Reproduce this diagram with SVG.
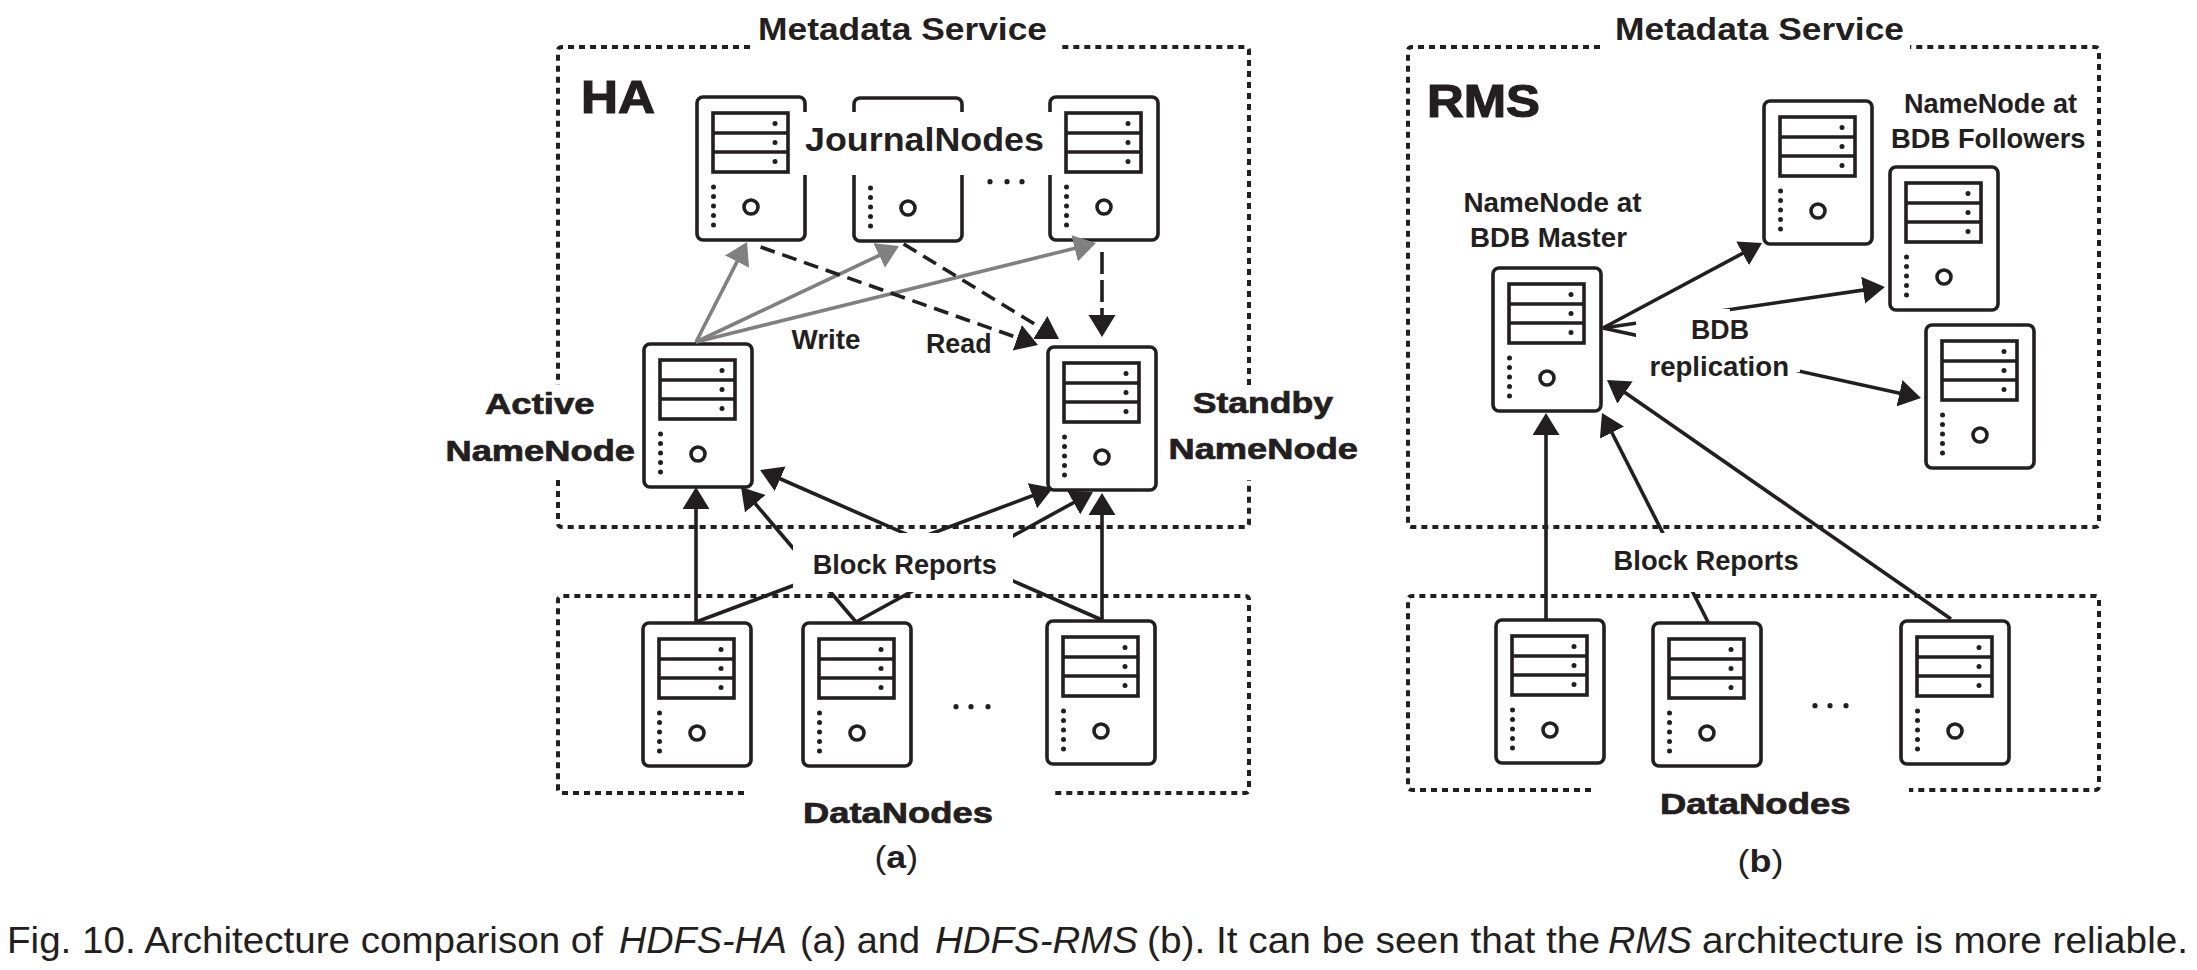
<svg xmlns="http://www.w3.org/2000/svg" width="2197" height="970" viewBox="0 0 2197 970">
<style>
text{font-family:"Liberation Sans",Arial,sans-serif;fill:#231f20;font-weight:bold}
.m{font-size:32px}.big{font-size:46px;stroke:#231f20;stroke-width:1.2px}.j{font-size:34px}
.s{font-size:27px}.h{font-size:29px;stroke:#231f20;stroke-width:.7px}.cap{font-size:36px;font-weight:normal}
.it{font-style:italic}.r{font-weight:normal}
.box{fill:none;stroke:#231f20;stroke-width:4;stroke-dasharray:6 5}
.t{fill:#fff;stroke:#231f20;stroke-width:3.6}
.l{fill:none;stroke:#231f20;stroke-width:3.6}
.d{fill:#231f20}
.k{fill:none;stroke:#231f20;stroke-width:3.6}
.g{fill:none;stroke:#808080;stroke-width:3.6;marker-end:url(#ag)}
.a{marker-end:url(#ab)}
.dash{stroke-dasharray:15 8}
.w{fill:#fff}
</style>
<defs>
<marker id="ab" markerUnits="userSpaceOnUse" markerWidth="24" markerHeight="28" refX="12" refY="13.5" orient="auto"><path d="M0,0L22,13.5L0,27z" fill="#231f20"/></marker>
<marker id="ag" markerUnits="userSpaceOnUse" markerWidth="24" markerHeight="28" refX="12" refY="13.5" orient="auto"><path d="M0,0L22,13.5L0,27z" fill="#808080"/></marker>
<g id="tower">
<rect class="t" x="0" y="0" width="108" height="143" rx="6"/>
<rect class="l" x="16" y="16" width="75" height="59"/>
<path class="l" d="M16,36H91M16,55H91"/>
<g class="d">
<circle cx="78" cy="26.5" r="2.5"/><circle cx="78" cy="45.5" r="2.5"/><circle cx="78" cy="64.5" r="2.5"/>
<circle cx="16.5" cy="90" r="2.5"/><circle cx="16.5" cy="99.5" r="2.5"/><circle cx="16.5" cy="109" r="2.5"/><circle cx="16.5" cy="118.5" r="2.5"/><circle cx="16.5" cy="128" r="2.5"/>
</g>
<circle class="l" cx="54" cy="110" r="7"/>
</g>
</defs>
<rect width="2197" height="970" fill="#fff"/>

<g id="boxes">
<path class="box" d="M750,47H562Q558,47 558,51V385M558,480V523Q558,527 562,527H1245Q1249,527 1249,523V480M1249,385V51Q1249,47 1245,47H1059"/>
<path class="box" d="M744,793H562Q558,793 558,789V600Q558,596 562,596H1245Q1249,596 1249,600V789Q1249,793 1245,793H1052"/>
<path class="box" d="M1600,47H1412Q1408,47 1408,51V523Q1408,527 1412,527H2095Q2099,527 2099,523V51Q2099,47 2095,47H1910"/>
<path class="box" d="M1591,790H1412Q1408,790 1408,786V600Q1408,596 1412,596H2095Q2099,596 2099,600V786Q2099,790 2095,790H1909"/>
</g>

<g id="jn1"><use href="#tower" x="697" y="97"/></g>
<g id="jn2"><use href="#tower" x="854" y="98"/></g>
<g id="jn3"><use href="#tower" x="1050" y="97"/></g>
<rect class="w" x="802" y="112" width="251" height="63"/>
<g id="active"><use href="#tower" x="644" y="344"/></g>
<g id="standby"><use href="#tower" x="1048" y="347"/></g>
<g id="dn-a1"><use href="#tower" x="643" y="623"/></g>
<g id="dn-a2"><use href="#tower" x="803" y="623"/></g>
<g id="dn-a3"><use href="#tower" x="1047" y="621"/></g>
<g id="master"><use href="#tower" x="1493" y="268"/></g>
<g id="f1"><use href="#tower" x="1764" y="101"/></g>
<g id="f2"><use href="#tower" x="1890" y="167"/></g>
<g id="f3"><use href="#tower" x="1926" y="325"/></g>
<g id="dn-b1"><use href="#tower" x="1496" y="620"/></g>
<g id="dn-b2"><use href="#tower" x="1653" y="623"/></g>
<g id="dn-b3"><use href="#tower" x="1901" y="621"/></g>

<g id="connectors">
<path class="g" d="M696,342L742.5,251"/>
<path class="g" d="M696,342L890,250.3"/>
<path class="g" d="M696,342L1086.3,245.4"/>
<path class="k a dash" d="M760.6,247L1028.6,341.7"/>
<path class="k a dash" d="M903.6,244L1050.5,333.8"/>
<path class="k a" stroke-dasharray="22 6" d="M1102,252V327"/>
<path class="k a" d="M696,622V497"/>
<path class="k a" d="M696,622L1043.6,491.5"/>
<path class="k a" d="M856,622L747.5,494.6"/>
<path class="k a" d="M856,622L1084.2,496.8"/>
<path class="k a" d="M1102,620L769.2,474"/>
<path class="k a" d="M1102,620V503"/>
<rect class="w" x="793" y="533" width="220" height="59"/>
<path class="k a" d="M1603,328L1875,288.4"/>
<path class="k a" d="M1603,328L1911.2,395.8"/>
<rect class="w" x="1636" y="309" width="94" height="32"/>
<rect class="w" x="1636" y="340" width="164" height="32"/>
<path class="k a" d="M1603,328L1753.2,247.7"/>
<path class="k a" d="M1546,620V423"/>
<path class="k a" d="M1708,622L1606.5,422"/>
<path class="k a" d="M1951,619L1615.2,385.7"/>
<rect class="w" x="1610" y="533" width="190" height="59"/>
</g>

<g id="ellipses" class="d">
<circle cx="990" cy="181.7" r="2.6"/><circle cx="1007" cy="181.7" r="2.6"/><circle cx="1022" cy="181.7" r="2.6"/>
<circle cx="956" cy="706.7" r="2.6"/><circle cx="971" cy="706.7" r="2.6"/><circle cx="988" cy="706.7" r="2.6"/>
<circle cx="1815" cy="705.7" r="2.6"/><circle cx="1830" cy="705.7" r="2.6"/><circle cx="1846" cy="705.7" r="2.6"/>
</g>

<g id="labels">
<text class="m" x="758" y="40" textLength="289" lengthAdjust="spacingAndGlyphs">Metadata Service</text>
<text class="big" x="581" y="113" textLength="74" lengthAdjust="spacingAndGlyphs">HA</text>
<text class="j" x="805" y="151" textLength="239" lengthAdjust="spacingAndGlyphs">JournalNodes</text>
<text class="s" x="791.5" y="349" textLength="69" lengthAdjust="spacingAndGlyphs">Write</text>
<text class="s" x="926" y="353" textLength="65.5" lengthAdjust="spacingAndGlyphs">Read</text>
<text class="h" x="485" y="414" textLength="109.5" lengthAdjust="spacingAndGlyphs">Active</text>
<text class="h" x="445.5" y="461" textLength="189.5" lengthAdjust="spacingAndGlyphs">NameNode</text>
<text class="h" x="1192.7" y="413" textLength="140.3" lengthAdjust="spacingAndGlyphs">Standby</text>
<text class="h" x="1168.5" y="459" textLength="189.5" lengthAdjust="spacingAndGlyphs">NameNode</text>
<text class="s" x="812.7" y="574" textLength="184.3" lengthAdjust="spacingAndGlyphs">Block Reports</text>
<text class="h" x="803" y="823" textLength="190" lengthAdjust="spacingAndGlyphs">DataNodes</text>
<text class="m" x="874.5" y="868" textLength="43.5" lengthAdjust="spacingAndGlyphs"><tspan class="r">(</tspan>a<tspan class="r">)</tspan></text>
<text class="m" x="1615" y="40" textLength="289" lengthAdjust="spacingAndGlyphs">Metadata Service</text>
<text class="big" x="1427" y="117" textLength="113" lengthAdjust="spacingAndGlyphs">RMS</text>
<text class="s" x="1463.5" y="212" textLength="178" lengthAdjust="spacingAndGlyphs">NameNode at</text>
<text class="s" x="1470" y="247" textLength="157" lengthAdjust="spacingAndGlyphs">BDB Master</text>
<text class="s" x="1904" y="113" textLength="173" lengthAdjust="spacingAndGlyphs">NameNode at</text>
<text class="s" x="1891" y="148" textLength="194.6" lengthAdjust="spacingAndGlyphs">BDB Followers</text>
<text class="s" x="1691" y="339" textLength="58" lengthAdjust="spacingAndGlyphs">BDB</text>
<text class="s" x="1649.4" y="376" textLength="139.6" lengthAdjust="spacingAndGlyphs">replication</text>
<text class="s" x="1613.6" y="570" textLength="185" lengthAdjust="spacingAndGlyphs">Block Reports</text>
<text class="h" x="1660" y="814" textLength="190.5" lengthAdjust="spacingAndGlyphs">DataNodes</text>
<text class="m" x="1737.6" y="872" textLength="45.9" lengthAdjust="spacingAndGlyphs"><tspan class="r">(</tspan>b<tspan class="r">)</tspan></text>
</g>

<g id="caption">
<text class="cap" x="7" y="953" textLength="596" lengthAdjust="spacingAndGlyphs">Fig. 10. Architecture comparison of</text>
<text class="cap it" x="619" y="953" textLength="168" lengthAdjust="spacingAndGlyphs">HDFS-HA</text>
<text class="cap" x="800" y="953" textLength="120" lengthAdjust="spacingAndGlyphs">(a) and</text>
<text class="cap it" x="935" y="953" textLength="203" lengthAdjust="spacingAndGlyphs">HDFS-RMS</text>
<text class="cap" x="1147" y="953" textLength="453" lengthAdjust="spacingAndGlyphs">(b). It can be seen that the</text>
<text class="cap it" x="1608" y="953" textLength="84" lengthAdjust="spacingAndGlyphs">RMS</text>
<text class="cap" x="1702" y="953" textLength="486" lengthAdjust="spacingAndGlyphs">architecture is more reliable.</text>
</g>
</svg>
